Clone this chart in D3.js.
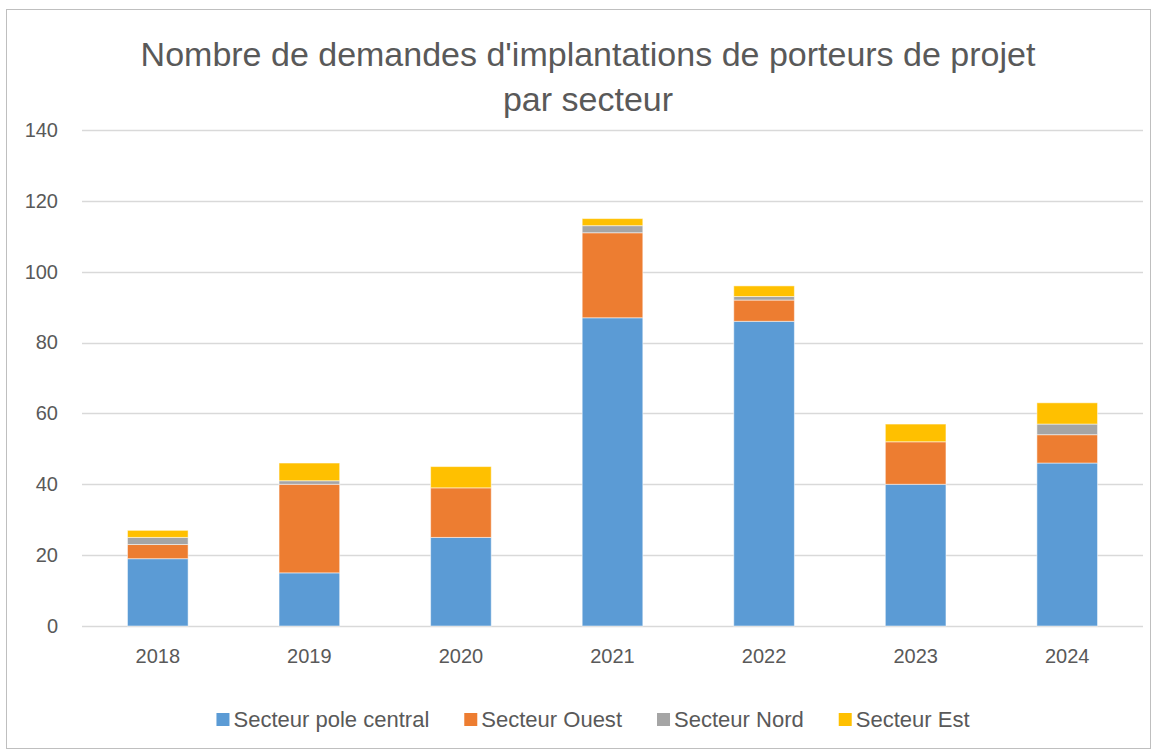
<!DOCTYPE html>
<html>
<head>
<meta charset="utf-8">
<script src="https://cdn.jsdelivr.net/npm/d3@7"></script>
<style>
  html, body { margin: 0; padding: 0; background: #fff; }
  svg { display: block; }
</style>
</head>
<body>
<svg id="chart"></svg>
<script>
// data
const years = ["2018", "2019", "2020", "2021", "2022", "2023", "2024"]
const seriesNames = ["Secteur pole central", "Secteur Ouest", "Secteur Nord", "Secteur Est"]
const poleCentral = [19, 15, 25, 87, 86, 40, 46]
const ouest = [4, 25, 14, 24, 6, 12, 8]
const nord = [2, 1, 0, 2, 1, 0, 3]
const est = [2, 5, 6, 2, 3, 5, 6]
const yTicks = [0, 20, 40, 60, 80, 100, 120, 140]
const titleLines = ["Nombre de demandes d'implantations de porteurs de projet", "par secteur"]

const config = {
    width: 1156,
    height: 753,
    font: "'Liberation Sans', Arial, sans-serif",
    textColor: "#595959",
    grid: "#d9d9d9",
    colors: ["#5b9bd5", "#ed7d31", "#a5a5a5", "#ffc000"],
    plot: { left: 82, right: 1143, top: 130, bottom: 626 }
}

const svg = d3.select("svg#chart")
    .attr("width", config.width)
    .attr("height", config.height)

// returns a font size so that `str` measures `target` px wide
const fitSize = function (str, target) {
    const t = svg.append("text").text(str)
        .style("font-family", config.font).style("font-size", "20px")
    const w = t.node().getComputedTextLength()
    t.remove()
    return 20 * target / w
}

// outer frame of the chart
svg.append("rect")
    .attr("x", 6.5).attr("y", 9.5)
    .attr("width", 1144).attr("height", 739)
    .style("fill", "#fff")
    .style("stroke", "#bfbfbf")
    .style("stroke-width", 1)

// title
const titleSize = Math.min(fitSize(titleLines[0], 910), 34)
titleLines.forEach((line, i) => {
    svg.append("text")
        .text(line)
        .attr("x", 588)
        .attr("y", 66 + i * 45)
        .attr("text-anchor", "middle")
        .style("font-family", config.font)
        .style("font-size", titleSize + "px")
        .style("fill", config.textColor)
})

const x = d3.scaleBand()
    .domain(years)
    .range([config.plot.left, config.plot.right])
    .paddingInner(0.6)
    .paddingOuter(0.3)

const y = d3.scaleLinear()
    .domain([0, 140])
    .range([config.plot.bottom, config.plot.top])

// gridlines
svg.append("g")
    .selectAll("line")
    .data(yTicks)
    .join("line")
    .attr("x1", config.plot.left).attr("x2", config.plot.right)
    .attr("y1", d => Math.round(y(d)) + 0.5).attr("y2", d => Math.round(y(d)) + 0.5)
    .style("stroke", config.grid)
    .style("stroke-width", 1.3)

// y axis labels
const yAxis = svg.append("g")
    .attr("transform", `translate(${config.plot.left - 8},0)`)
    .call(d3.axisLeft(y).tickValues(yTicks).tickSize(0).tickPadding(16))
yAxis.select(".domain").remove()
yAxis.selectAll("text")
    .style("font-family", config.font)
    .style("font-size", "20px")
    .style("fill", config.textColor)

// x axis labels
const xAxis = svg.append("g")
    .attr("transform", `translate(0,${config.plot.bottom})`)
    .call(d3.axisBottom(x).tickSize(0).tickPadding(23))
xAxis.select(".domain").remove()
xAxis.selectAll("text")
    .style("font-family", config.font)
    .style("font-size", "20px")
    .style("fill", config.textColor)

// stacked bars
const table = years.map((yr, i) => ({
    year: yr,
    [seriesNames[0]]: poleCentral[i],
    [seriesNames[1]]: ouest[i],
    [seriesNames[2]]: nord[i],
    [seriesNames[3]]: est[i]
}))
const stacked = d3.stack().keys(seriesNames)(table)
const color = d3.scaleOrdinal().domain(seriesNames).range(config.colors)

svg.append("g")
    .selectAll("g")
    .data(stacked)
    .join("g")
    .style("fill", d => color(d.key))
    .selectAll("rect")
    .data(d => d.filter(s => s[1] > s[0]))
    .join("rect")
    .attr("x", d => x(d.data.year))
    .attr("width", x.bandwidth())
    .attr("y", d => y(d[1]))
    .attr("height", d => y(d[0]) - y(d[1]))
    .style("stroke", "#fff")
    .style("stroke-opacity", 0.5)
    .style("stroke-width", 1)

// legend
const legendSize = Math.min(fitSize(seriesNames[0], 196), 23)
const legend = svg.append("g").attr("transform", "translate(0,720)")
const items = legend.selectAll("g")
    .data(seriesNames)
    .join("g")
items.append("rect")
    .attr("y", -7).attr("width", 13).attr("height", 13)
    .style("fill", d => color(d))
items.append("text")
    .text(d => d)
    .attr("x", 17)
    .attr("y", 7)
    .style("font-family", config.font)
    .style("font-size", legendSize + "px")
    .style("fill", config.textColor)
const gap = 35
let widths = []
items.each(function () { widths.push(this.getBBox().width) })
const total = d3.sum(widths) + gap * (widths.length - 1)
let cx = 593 - total / 2
items.attr("transform", (d, i) => {
    const t = `translate(${cx},0)`
    cx += widths[i] + gap
    return t
})
</script>
</body>
</html>
